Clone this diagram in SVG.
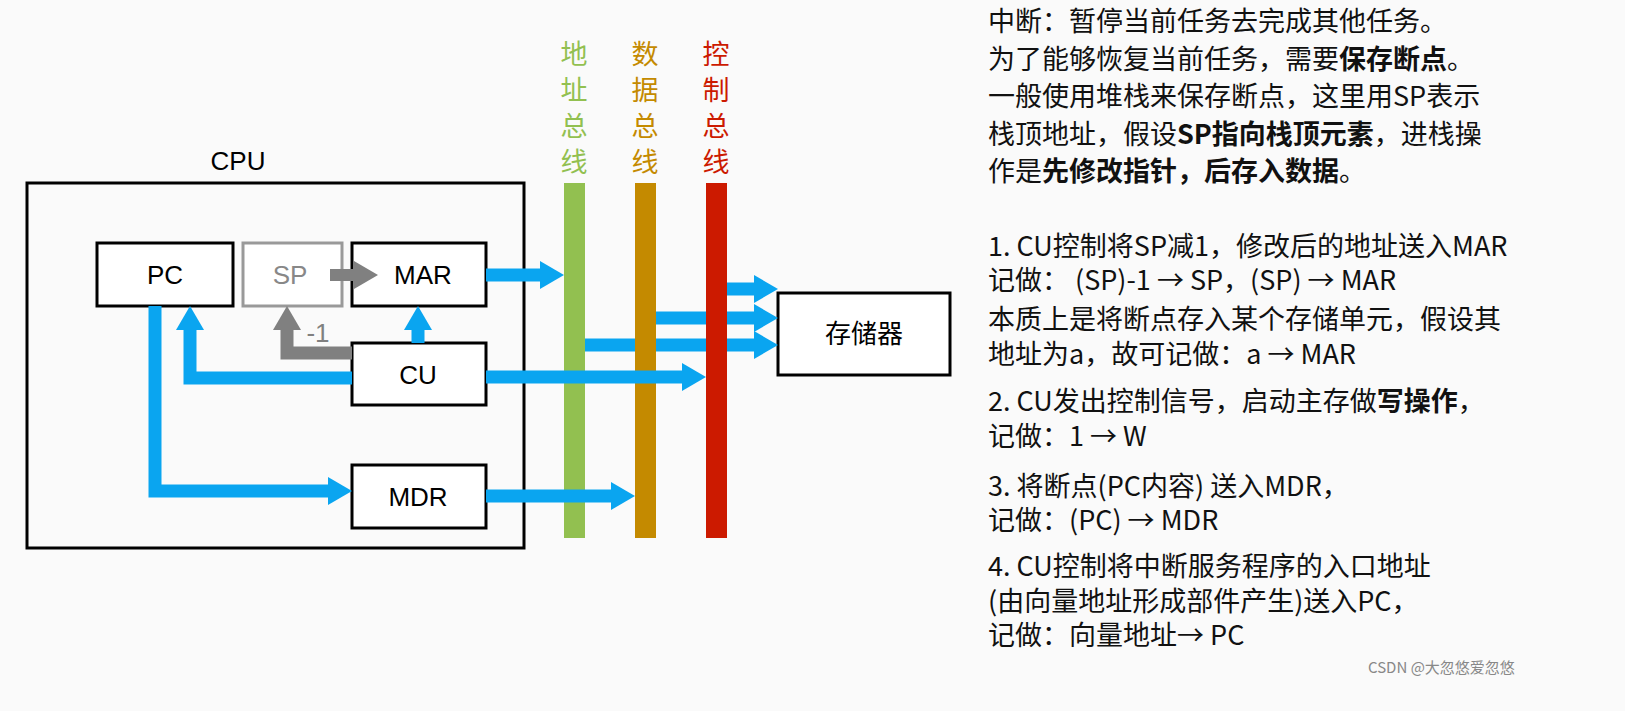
<svg xmlns="http://www.w3.org/2000/svg" width="1625" height="711" viewBox="0 0 1625 711">
<style>
.box{fill:#fff;stroke:#000;stroke-width:3}
.lbl{font-family:"Liberation Sans","Noto Sans CJK SC",sans-serif;font-size:26px;text-anchor:middle}
.b{stroke:#0AA5F0;stroke-width:13;fill:none}
.t{font-family:"Noto Sans CJK SC",sans-serif;font-size:27px;fill:#111}
.t2{font-family:"Noto Sans CJK SC",sans-serif;font-size:27px;fill:#111}
.bold{font-weight:bold}
.bus{font-family:"Noto Sans CJK SC",sans-serif;font-size:27px;text-anchor:middle}
</style>
<defs>
<marker id="ah" markerUnits="userSpaceOnUse" markerWidth="26" markerHeight="28" refX="0" refY="14" orient="auto"><path d="M0,0L24,14L0,28Z" fill="#0AA5F0"/></marker>
<marker id="ag" markerUnits="userSpaceOnUse" markerWidth="26" markerHeight="28" refX="0" refY="14" orient="auto"><path d="M0,0L24,14L0,28Z" fill="#808080"/></marker>
</defs>
<rect width="1625" height="711" fill="#fafafa"/>
<g id="cpu"><rect x="27" y="183" width="497" height="365" fill="none" stroke="#000" stroke-width="3"/><text class="lbl" x="238" y="170">CPU</text></g>
<g id="buses">
<rect x="564" y="183" width="21" height="355" fill="#92C050"/>
<rect x="635" y="183" width="21" height="355" fill="#C48A00"/>
<rect x="706" y="183" width="21" height="355" fill="#CC1A00"/>
<g fill="#92C050" class="bus"><text x="574" y="64">地</text><text x="574" y="100">址</text><text x="574" y="136">总</text><text x="574" y="172">线</text></g>
<g fill="#C48A00" class="bus"><text x="645" y="64">数</text><text x="645" y="100">据</text><text x="645" y="136">总</text><text x="645" y="172">线</text></g>
<g fill="#CC1A00" class="bus"><text x="716" y="64">控</text><text x="716" y="100">制</text><text x="716" y="136">总</text><text x="716" y="172">线</text></g>
</g>
<g id="pc"><rect class="box" x="97" y="243" width="136" height="63"/><text class="lbl" x="165" y="284">PC</text></g>
<g id="sp"><rect x="243" y="243" width="99" height="63" fill="#fff" stroke="#999" stroke-width="3"/><text class="lbl" x="290" y="284" fill="#888">SP</text></g>
<g id="mar"><rect class="box" x="352" y="243" width="134" height="63"/><text class="lbl" x="423" y="284">MAR</text></g>
<g id="cu"><rect class="box" x="352" y="343" width="134" height="62"/><text class="lbl" x="418" y="384">CU</text></g>
<g id="mdr"><rect class="box" x="352" y="465" width="134" height="63"/><text class="lbl" x="418" y="506">MDR</text></g>
<g id="mem"><rect class="box" x="778" y="293" width="172" height="82"/><text class="lbl" x="864" y="343" font-size="30">存储器</text></g>
<g id="connectors">
<path class="b" d="M155,306V491H328" marker-end="url(#ah)"/>
<path class="b" d="M352,378H190V330" marker-end="url(#ah)"/>
<path class="b" d="M418,343V330" marker-end="url(#ah)"/>
<path d="M352,353H287V330" stroke="#808080" stroke-width="13" fill="none" marker-end="url(#ag)"/>
<path d="M330,275H354" stroke="#808080" stroke-width="12" fill="none" marker-end="url(#ag)"/>
<path class="b" d="M486,275H540" marker-end="url(#ah)"/>
<path class="b" d="M486,377H682" marker-end="url(#ah)"/>
<path class="b" d="M486,496H611" marker-end="url(#ah)"/>
<path class="b" d="M585,345H754" marker-end="url(#ah)"/>
<path class="b" d="M656,318H754" marker-end="url(#ah)"/>
<path class="b" d="M727,289H754" marker-end="url(#ah)"/>
<rect x="706" y="305" width="21" height="50" fill="#CC1A00"/>
<rect x="635" y="335" width="21" height="20" fill="#C48A00"/>
</g>
<text class="lbl" x="318" y="342" fill="#808080" font-size="24">-1</text>
<g id="notes">
<text class="t" x="988" y="31">中断：暂停当前任务去完成其他任务。</text>
<text class="t" x="988" y="69">为了能够恢复当前任务，需要<tspan class="bold">保存断点</tspan>。</text>
<text class="t" x="988" y="106">一般使用堆栈来保存断点，这里用SP表示</text>
<text class="t" x="988" y="144">栈顶地址，假设<tspan class="bold">SP指向栈顶元素</tspan>，进栈操</text>
<text class="t" x="988" y="181">作是<tspan class="bold">先修改指针，后存入数据</tspan>。</text>
<text class="t2" x="988" y="256">1. CU控制将SP减1，修改后的地址送入MAR</text>
<text class="t2" x="988" y="290">记做： (SP)-1 → SP，(SP) → MAR</text>
<text class="t2" x="988" y="329">本质上是将断点存入某个存储单元，假设其</text>
<text class="t2" x="988" y="364">地址为a，故可记做：a → MAR</text>
<text class="t2" x="988" y="411">2. CU发出控制信号，启动主存做<tspan class="bold">写操作</tspan>，</text>
<text class="t2" x="988" y="446">记做：1 → W</text>
<text class="t2" x="988" y="496">3. 将断点(PC内容) 送入MDR，</text>
<text class="t2" x="988" y="530">记做：(PC) → MDR</text>
<text class="t2" x="988" y="576">4. CU控制将中断服务程序的入口地址</text>
<text class="t2" x="988" y="611">(由向量地址形成部件产生)送入PC，</text>
<text class="t2" x="988" y="645">记做：向量地址→ PC</text>
<text x="1368" y="673" font-family="Noto Sans CJK SC,sans-serif" font-size="15" fill="#888">CSDN @大忽悠爱忽悠</text>
</g>
</svg>
